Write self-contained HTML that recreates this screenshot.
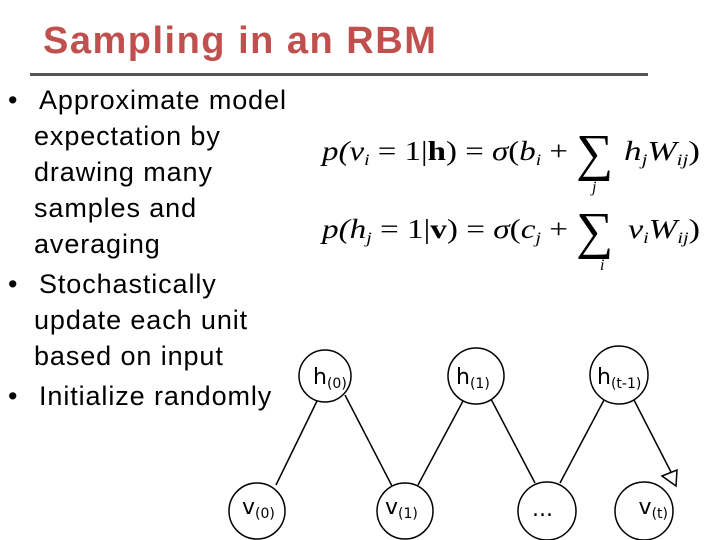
<!DOCTYPE html>
<html><head><style>
body{margin:0;width:720px;height:540px;background:#fff;position:relative;overflow:hidden;font-family:"Liberation Sans",sans-serif}
.t{position:absolute;left:43px;top:20px;font-size:38px;font-weight:bold;color:#c0504d;font-family:"Liberation Sans",sans-serif;letter-spacing:1.5px}
.rule{position:absolute;left:30px;top:73px;width:618px;height:3px;background:#555}
.b{position:absolute;left:0;top:82px;font-size:27px;line-height:36px;color:#000;letter-spacing:0.9px}
.b div{position:relative;padding-left:34px;text-indent:5px}
.b .bl{position:absolute;left:8px;text-indent:0}
.b .s{margin-top:4px}
</style></head><body>
<div class="t">Sampling in an RBM</div>
<div class="rule"></div>
<div class="b">
<div><span class="bl">•</span>Approximate model<br>expectation by<br>drawing many<br>samples and<br>averaging</div>
<div class="s"><span class="bl">•</span>Stochastically<br>update each unit<br>based on input</div>
<div class="s"><span class="bl">•</span>Initialize randomly</div>
</div>
<svg width="720" height="540" style="position:absolute;left:0;top:0" font-family="Liberation Serif,serif" font-style="italic">
<g font-size="27">
<text x="322" y="160" textLength="246" lengthAdjust="spacingAndGlyphs">p(v<tspan font-size="16" dy="5">i</tspan><tspan dy="-5" font-style="normal"> = 1|<tspan font-weight="bold">h</tspan>) = </tspan>σ<tspan font-style="normal">(</tspan>b<tspan font-size="16" dy="5">i</tspan><tspan dy="-5" font-style="normal"> + </tspan></text>
<text x="576" y="170" font-size="52" font-style="normal">∑</text>
<text x="592" y="192" font-size="16">j</text>
<text x="624" y="160" textLength="76" lengthAdjust="spacingAndGlyphs">h<tspan font-size="16" dy="5">j</tspan><tspan dy="-5">W</tspan><tspan font-size="16" dy="5">ij</tspan><tspan dy="-5" font-style="normal">)</tspan></text>
<text x="322" y="238" textLength="246" lengthAdjust="spacingAndGlyphs">p(h<tspan font-size="16" dy="5">j</tspan><tspan dy="-5" font-style="normal"> = 1|<tspan font-weight="bold">v</tspan>) = </tspan>σ<tspan font-style="normal">(</tspan>c<tspan font-size="16" dy="5">j</tspan><tspan dy="-5" font-style="normal"> + </tspan></text>
<text x="576" y="248" font-size="52" font-style="normal">∑</text>
<text x="600" y="270" font-size="16">i</text>
<text x="628" y="238" textLength="72" lengthAdjust="spacingAndGlyphs">v<tspan font-size="16" dy="5">i</tspan><tspan dy="-5">W</tspan><tspan font-size="16" dy="5">ij</tspan><tspan dy="-5" font-style="normal">)</tspan></text>
</g>
<g stroke="#000" stroke-width="1.5" fill="none">
<line x1="317" y1="401" x2="276" y2="485"/>
<line x1="345" y1="395" x2="392" y2="486"/>
<line x1="463" y1="401" x2="418" y2="485"/>
<line x1="491" y1="399" x2="535" y2="483"/>
<line x1="604" y1="400" x2="560" y2="483"/>
<line x1="634" y1="400" x2="672" y2="474"/>
<circle cx="325" cy="376" r="26"/>
<circle cx="476" cy="376" r="28"/>
<circle cx="619" cy="375" r="29"/>
<circle cx="257" cy="511" r="28"/>
<circle cx="405" cy="511" r="28"/>
<circle cx="547" cy="511" r="29"/>
<circle cx="644" cy="511" r="29"/>
<polygon points="662,476 677,470 676,486" fill="#fff"/>
</g>
<g font-family="DejaVu Sans,sans-serif" font-style="normal" font-size="22" fill="#000">
<text x="313" y="384">h<tspan font-size="14" dy="4">(0)</tspan></text>
<text x="456" y="384">h<tspan font-size="14" dy="4">(1)</tspan></text>
<text x="597" y="384">h<tspan font-size="14" dy="4">(t-1)</tspan></text>
<text x="242" y="514">v<tspan font-size="14" dy="4">(0)</tspan></text>
<text x="385" y="514">v<tspan font-size="14" dy="4">(1)</tspan></text>
<text x="532" y="516">...</text>
<text x="668" y="514" text-anchor="end">v<tspan font-size="14" dy="4">(t)</tspan></text>
</g>
</svg>
</body></html>
